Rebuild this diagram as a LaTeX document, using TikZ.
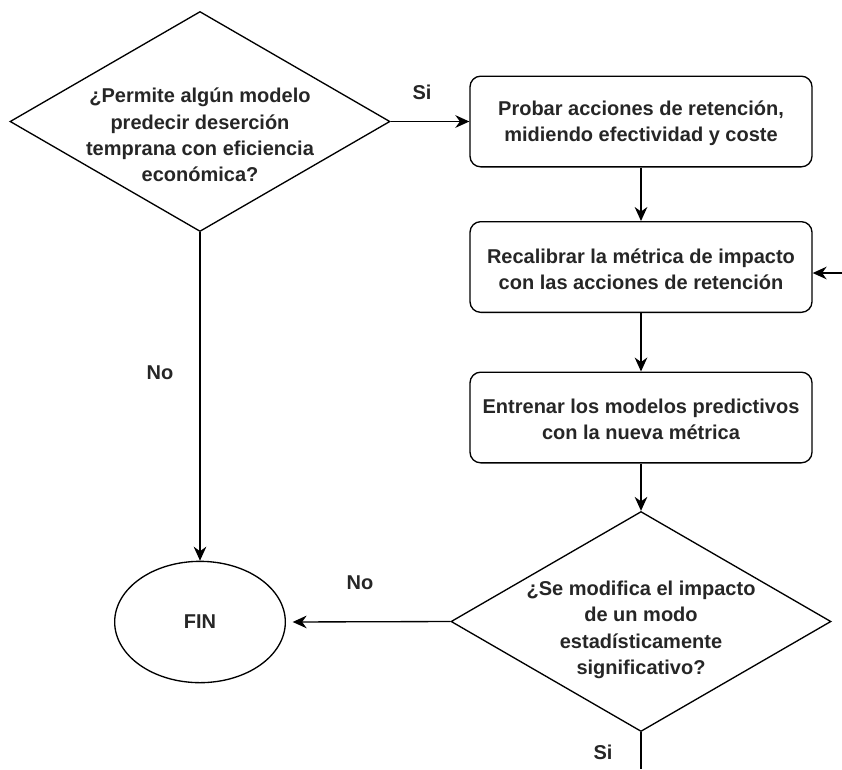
\documentclass[tikz,border=0pt]{standalone}
\usepackage{fontspec}
\setmainfont{Liberation Sans}
\usetikzlibrary{shapes.geometric,arrows.meta}
\begin{document}
\begin{tikzpicture}[x=0.75pt,y=-0.75pt,
  every node/.style={font=\bfseries\fontsize{15}{19.8}\selectfont, text=black!85},
  dia/.style={draw, line width=1pt, diamond, inner sep=0pt, minimum width=285pt, minimum height=165pt},
  txt/.style={align=center, inner sep=0pt},
  procbox/.style={draw, line width=1pt, rounded corners=8pt, minimum width=256.5pt, minimum height=68pt, inner sep=0pt},
  endell/.style={draw, line width=1pt, ellipse, minimum width=128pt, minimum height=91pt, inner sep=0pt},
  lbl/.style={inner sep=0pt},
  conn/.style={line width=1pt, -{Stealth[length=10.5pt,width=9.5pt]}}
]
\useasboundingbox (0,0) rectangle (842,769);

\node[dia] (d1) at (200,121.5) {};
\node[txt] (d1t) at (200,135) {¿Permite algún modelo\\predecir deserción\\temprana con eficiencia\\económica?};

\node[procbox] (b1) at (641,121.5) {};
\node[txt] (b1t) at (641,123.5) {Probar acciones de retención,\\midiendo efectividad y coste};
\node[procbox] (b2) at (641,267) {};
\node[txt] (b2t) at (641,269) {Recalibrar la métrica de impacto\\con las acciones de retención};
\node[procbox] (b3) at (641,417.5) {};
\node[txt] (b3t) at (641,419.5) {Entrenar los modelos predictivos\\con la nueva métrica};

\node[dia] (d2) at (641,621.5) {};
\node[txt] (d2t) at (641,630) {¿Se modifica el impacto\\de un modo\\estadísticamente\\significativo?};

\node[endell] (fin) at (200,622) {FIN};

\coordinate (rin) at (842,273);
\coordinate (bout) at (641,769);

\draw[conn] (d1.east) -- (b1.west);
\draw[conn] (b1.south) -- (b2.north);
\draw[conn] (b2.south) -- (b3.north);
\draw[conn] (b3.south) -- (d2.north);
\draw[conn, shorten >=5pt] (d2.west) -- (fin.east);
\draw[conn] (d1.south) -- (fin.north);
\draw[line width=1pt] (d2.south) -- (bout);
\draw[conn] (rin) -- (b2.east |- rin);

\node[lbl] (ls1) at (422,92) {Si};
\node[lbl] (ln1) at (160,373) {No};
\node[lbl] (ln2) at (360,583) {No};
\node[lbl] (ls2) at (603,752) {Si};
\end{tikzpicture}
\end{document}
